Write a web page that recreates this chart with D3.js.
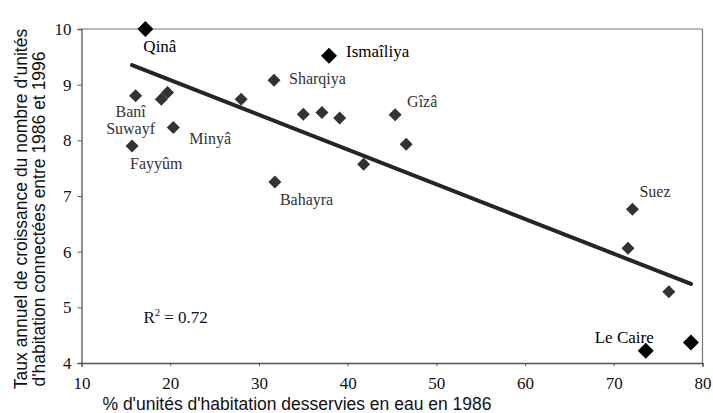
<!DOCTYPE html>
<html>
<head>
<meta charset="utf-8">
<script src="https://cdn.jsdelivr.net/npm/d3@7/dist/d3.min.js"></script>
<style>
  html, body { margin: 0; padding: 0; background: #fff; }
  svg { display: block; }
</style>
</head>
<body>
<svg id="chart" width="713" height="413"></svg>
<script>
// ---- Data ----
const names = ["Qinâ", "Banî Suwayf", "", "", "Minyâ", "Fayyûm", "Ismaîliya", "Sharqiya", "", "", "", "", "Gîzâ", "", "", "Bahayra", "Suez", "", "", "Le Caire", ""];
const xValues = [17.2, 16.1, 19.0, 19.7, 20.35, 15.7, 37.9, 31.7, 28.0, 35.0, 37.1, 39.1, 45.35, 46.6, 41.8, 31.8, 72.1, 71.6, 76.2, 73.6, 78.7];
const yValues = [10.0, 8.80, 8.74, 8.86, 8.23, 7.90, 9.52, 9.08, 8.74, 8.47, 8.50, 8.40, 8.46, 7.93, 7.57, 7.25, 6.76, 6.06, 5.28, 4.22, 4.37];
const highlighted = [true, false, false, false, false, false, true, false, false, false, false, false, false, false, false, false, false, false, false, true, true];
const trendX = [15.7, 78.7];
const trendY = [9.35, 5.42];
const xTicks = [10, 20, 30, 40, 50, 60, 70, 80];
const yTicks = [4, 5, 6, 7, 8, 9, 10];
const rSquared = "0.72";
const xTitle = "% d'unités d'habitation desservies en eau en 1986";
const yTitleLines = ["Taux annuel de croissance du nombre d'unités", "d'habitation connectées entre 1986 et 1996"];

// ---- Layout (not data) ----
const labelLayout = {
  "Qinâ": { dx: -2, dy: 23, anchor: "start" },
  "Banî Suwayf": { dx: -5, dy: 21, anchor: "middle", lineGap: 17 },
  "Minyâ": { dx: 16, dy: 16, anchor: "start" },
  "Fayyûm": { dx: -2, dy: 23, anchor: "start" },
  "Ismaîliya": { dx: 17, dy: 1, anchor: "start" },
  "Sharqiya": { dx: 15, dy: 4, anchor: "start" },
  "Gîzâ": { dx: 12, dy: -8, anchor: "start" },
  "Bahayra": { dx: 5, dy: 23, anchor: "start" },
  "Suez": { dx: 7, dy: -12, anchor: "start" },
  "Le Caire": { dx: -51, dy: -8, anchor: "start" }
};

const svg = d3.select("#chart");
const mLeft = 81.5, mRight = 702.5, mTop = 29, mBottom = 363;
const x = d3.scaleLinear().domain([10, 80]).range([mLeft, mRight]);
const y = d3.scaleLinear().domain([4, 10]).range([mBottom, mTop]);

const serif = "'Liberation Serif', 'Times New Roman', serif";
const sans = "'Liberation Sans', Arial, sans-serif";

// frame top & right
svg.append("line").attr("x1", mLeft).attr("x2", mRight).attr("y1", mTop).attr("y2", mTop)
  .attr("stroke", "#777").attr("stroke-width", 1.2);
svg.append("line").attr("x1", mRight).attr("x2", mRight).attr("y1", mTop).attr("y2", mBottom)
  .attr("stroke", "#777").attr("stroke-width", 1.2);

// axes
const xAxis = d3.axisBottom(x).tickValues(xTicks).tickSize(4).tickPadding(10).tickFormat(d3.format("d"));
const yAxis = d3.axisLeft(y).tickValues(yTicks).tickSize(4).tickPadding(6).tickFormat(d3.format("d"));

const gx = svg.append("g").attr("transform", `translate(0,${mBottom})`).call(xAxis);
const gy = svg.append("g").attr("transform", `translate(${mLeft},0)`).call(yAxis);
[gx, gy].forEach(g => {
  g.select(".domain").attr("stroke", "#555").attr("stroke-width", 1.3);
  g.selectAll(".tick line").attr("stroke", "#555").attr("stroke-width", 1);
  g.selectAll(".tick text").attr("font-family", serif).attr("font-size", 17).attr("fill", "#111");
});
gx.selectAll(".tick line").attr("y2", 3);

// trend line
svg.append("line")
  .attr("x1", x(trendX[0])).attr("y1", y(trendY[0]))
  .attr("x2", x(trendX[1])).attr("y2", y(trendY[1]))
  .attr("stroke", "#252525").attr("stroke-width", 4).attr("stroke-linecap", "round");

// points
const pts = d3.range(xValues.length).map(i => ({ name: names[i], x: xValues[i], y: yValues[i], hi: highlighted[i] }));
const diamond = r => `M0,${-r}L${r},0L0,${r}L${-r},0Z`;
svg.append("g").selectAll("path").data(pts).join("path")
  .attr("transform", d => `translate(${x(d.x)},${y(d.y)})`)
  .attr("d", d => diamond(d.hi ? 8 : 6.5))
  .attr("fill", d => d.hi ? "#000" : "#333");

// labels
const lg = svg.append("g");
pts.filter(d => d.name).forEach(d => {
  const L = labelLayout[d.name];
  const t = lg.append("text")
    .attr("x", x(d.x) + L.dx).attr("y", y(d.y) + L.dy)
    .attr("text-anchor", L.anchor)
    .attr("font-family", serif)
    .attr("font-size", d.hi ? 17 : 16)
    .attr("fill", d.hi ? "#000" : "#333");
  if (L.lineGap) {
    const parts = d.name.split(" ");
    parts.forEach((p, k) => {
      t.append("tspan").attr("x", x(d.x) + L.dx).attr("dy", k === 0 ? 0 : L.lineGap).text(p);
    });
  } else {
    t.text(d.name);
  }
});

// R²
const rt = svg.append("text").attr("x", x(17)).attr("y", y(4.72))
  .attr("font-family", serif).attr("font-size", 17).attr("fill", "#111");
rt.append("tspan").text("R");
rt.append("tspan").attr("font-size", 10).attr("dy", -7).text("2");
rt.append("tspan").attr("dy", 7).text(" = " + rSquared);

// axis titles
svg.append("text").attr("x", 297).attr("y", 410)
  .attr("text-anchor", "middle").attr("font-family", sans).attr("font-size", 17.5).attr("fill", "#111")
  .text(xTitle);

const yCenters = [209, 219];
const yBase = [27, 45];
yTitleLines.forEach((line, k) => {
  svg.append("text")
    .attr("transform", `translate(${yBase[k]},${yCenters[k]}) rotate(-90)`)
    .attr("text-anchor", "middle").attr("font-family", sans).attr("font-size", 17.5).attr("fill", "#111")
    .text(line);
});
</script>
</body>
</html>
